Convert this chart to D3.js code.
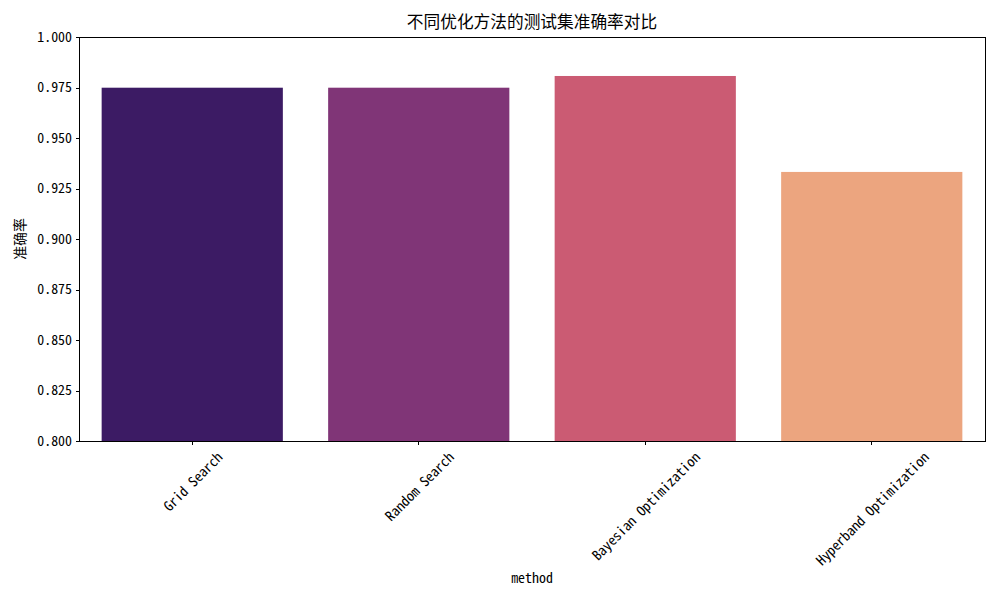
<!DOCTYPE html>
<html>
<head>
<meta charset="utf-8">
<script src="https://cdn.jsdelivr.net/npm/d3@7"></script>
<style>
  body { margin: 0; background: #fff; }
  svg { display: block; }
  text { font-family: "Noto Sans Mono CJK SC", "Noto Sans CJK SC", "DejaVu Sans Mono", monospace; fill: #000; }
</style>
</head>
<body>
<svg id="chart" width="1000" height="600"></svg>
<script>
const categories = ["Grid Search", "Random Search", "Bayesian Optimization", "Hyperband Optimization"];
const accuracy = [0.9749, 0.9749, 0.9807, 0.9332];
const barColors = ["#3c1b64", "#803577", "#cb5b73", "#eca57f"];
const yTicks = [0.800, 0.825, 0.850, 0.875, 0.900, 0.925, 0.950, 0.975, 1.000];
const titleText = "不同优化方法的测试集准确率对比";
const xLabelText = "method";
const yLabelText = "准确率";

const svg = d3.select("#chart");
const margin = { left: 79, right: 15, top: 37, bottom: 159 };
const W = 1000, H = 600;
const iw = W - margin.left - margin.right;
const ih = H - margin.top - margin.bottom;

const x = d3.scaleBand().domain(categories).range([margin.left, margin.left + iw]).paddingInner(0.2).paddingOuter(0.1);
const y = d3.scaleLinear().domain([0.8, 1.0]).range([margin.top + ih, margin.top]);

const data = categories.map((c, i) => ({ c, v: accuracy[i], col: barColors[i] }));

svg.append("g").selectAll("rect").data(data).join("rect")
  .attr("x", d => x(d.c))
  .attr("width", x.bandwidth())
  .attr("y", d => y(d.v))
  .attr("height", d => y(0.8) - y(d.v))
  .attr("fill", d => d.col);

// frame
svg.append("rect")
  .attr("x", margin.left).attr("y", margin.top)
  .attr("width", iw).attr("height", ih)
  .attr("fill", "none").attr("stroke", "#000").attr("stroke-width", 1)
  .attr("shape-rendering", "crispEdges");

// y axis
const yAxis = svg.append("g")
  .attr("transform", `translate(${margin.left},0)`)
  .call(d3.axisLeft(y).tickValues(yTicks).tickFormat(d3.format(".3f")).tickSize(3.5).tickPadding(3.5));
yAxis.select(".domain").remove();
yAxis.selectAll("line").attr("stroke", "#000").attr("shape-rendering", "crispEdges");
yAxis.selectAll("text").attr("font-size", "13.9px").attr("fill", "#000")
  .style("font-family", '"Noto Sans Mono CJK SC", "Noto Sans CJK SC", monospace');

// x axis ticks
const xAxis = svg.append("g")
  .attr("transform", `translate(0,${margin.top + ih})`)
  .call(d3.axisBottom(x).tickSize(3.5).tickFormat(""));
xAxis.select(".domain").remove();
xAxis.selectAll("line").attr("stroke", "#000").attr("shape-rendering", "crispEdges");

// rotated x tick labels (matplotlib rotation=45, ha=center)
const fs = 13.9;
const topY = margin.top + ih + 3.5 + 3.5 + 1;
const s45 = Math.SQRT1_2;
categories.forEach(c => {
  const t = svg.append("text")
    .attr("font-size", fs + "px")
    .attr("text-anchor", "middle")
    .attr("dominant-baseline", "central")
    .text(c);
  const w = t.node().getComputedTextLength();
  const h = fs;
  const bh = (w + h) * s45;
  const cx = x(c) + x.bandwidth() / 2;
  const cy = topY + bh / 2;
  t.attr("transform", `translate(${cx},${cy}) rotate(-45)`);
});

// title
svg.append("text")
  .attr("x", margin.left + iw / 2).attr("y", 28)
  .attr("text-anchor", "middle")
  .attr("font-size", "16.7px")
  .text(titleText);

// x label
svg.append("text")
  .attr("x", margin.left + iw / 2).attr("y", 583)
  .attr("text-anchor", "middle")
  .attr("font-size", "13.9px")
  .text(xLabelText);

// y label
svg.append("text")
  .attr("transform", `translate(25,${margin.top + ih / 2}) rotate(-90)`)
  .attr("text-anchor", "middle")
  .attr("font-size", "13.9px")
  .text(yLabelText);
</script>
</body>
</html>
